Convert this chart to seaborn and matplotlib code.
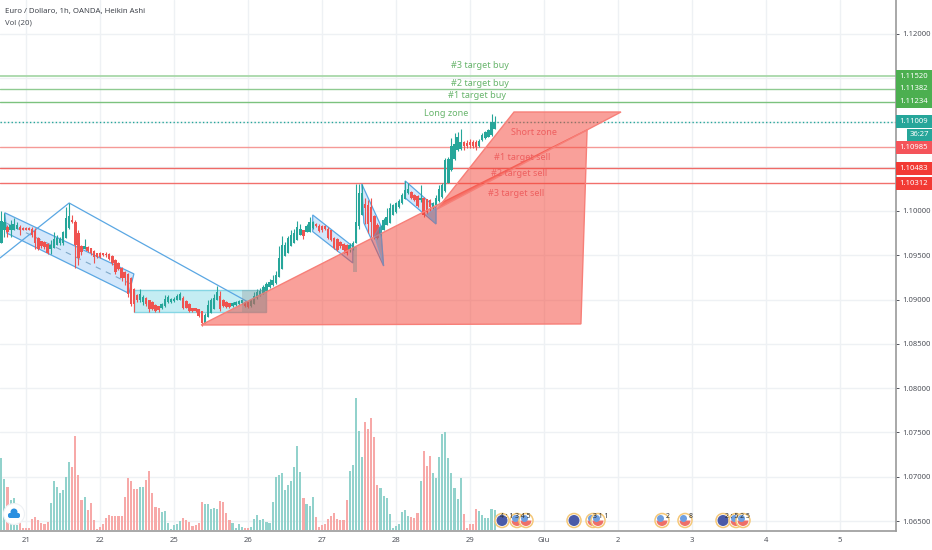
import pandas as pd
import seaborn as sns
from matplotlib import pyplot as plt
from matplotlib.patches import Circle, FancyBboxPatch, Polygon, Rectangle, Wedge
from matplotlib.transforms import Affine2D

# hourly bars, first bar sits 8 hours before the "21" tick
first_bar = -8
opens = [1.0964,1.0979,1.0982,1.0979,1.0979,1.0980,1.0982,1.0981,1.0981,1.0981,1.0980,1.0977,1.0970,1.0966,1.0965,1.0963,
         1.0957,1.0958,1.0962,1.0964,1.0964,1.0969,1.0981,1.0990,1.0988,1.0975,1.0961,1.0957,1.0959,1.0958,1.0955,1.0952,
         1.0952,1.0952,1.0951,1.0951,1.0949,1.0945,1.0941,1.0936,1.0931,1.0929,1.0924,1.0912,1.0905,1.0899,1.0897,1.0902,
         1.0900,1.0897,1.0894,1.0893,1.0890,1.0893,1.0897,1.0897,1.0898,1.0900,1.0900,1.0902,1.0898,1.0895,1.0891,1.0890,
         1.0889,1.0887,1.0874,1.0880,1.0885,1.0889,1.0899,1.0904,1.0899,1.0897,1.0896,1.0893,1.0894,1.0895,1.0896,1.0897,
         1.0897,1.0893,1.0895,1.0902,1.0905,1.0907,1.0910,1.0914,1.0916,1.0919,1.0926,1.0935,1.0949,1.0953,1.0960,1.0964,
         1.0967,1.0973,1.0978,1.0976,1.0976,1.0981,1.0985,1.0983,1.0983,1.0983,1.0980,1.0978,1.0969,1.0968,1.0965,1.0963,
         1.0962,1.0956,1.0957,1.0964,1.0983,1.0995,1.1008,1.1007,1.1004,1.0994,1.0984,1.0973,1.0979,1.0984,1.0986,1.0996,
         1.0999,1.1004,1.1009,1.1014,1.1020,1.1021,1.1018,1.1017,1.1012,1.1015,1.1013,1.1012,1.1003,1.1007,1.1011,1.1016,
         1.1022,1.1032,1.1046,1.1059,1.1069,1.1070,1.1078,1.1077,1.1078,1.1078,1.1078,1.1073,1.1080,1.1082,1.1084,1.1086,1.1093]
closes = [1.0989,1.0987,1.0976,1.0984,1.0985,1.0984,1.0978,1.0979,1.0979,1.0979,1.0973,1.0964,1.0957,1.0960,1.0959,1.0952,
          1.0962,1.0968,1.0970,1.0968,1.0976,1.0992,1.0994,1.0987,1.0962,1.0947,1.0954,1.0960,1.0955,1.0952,1.0948,1.0948,
          1.0948,1.0950,1.0950,1.0946,1.0941,1.0931,1.0935,1.0924,1.0924,1.0906,1.0895,1.0895,1.0899,1.0906,1.0903,1.0895,
          1.0889,1.0889,1.0887,1.0888,1.0895,1.0901,1.0903,1.0901,1.0901,1.0904,1.0906,1.0891,1.0891,1.0887,1.0887,1.0887,
          1.0881,1.0874,1.0883,1.0894,1.0899,1.0902,1.0908,1.0889,1.0893,1.0892,1.0892,1.0896,1.0897,1.0898,1.0899,1.0893,
          1.0892,1.0899,1.0904,1.0908,1.0910,1.0914,1.0918,1.0920,1.0922,1.0928,1.0947,1.0962,1.0962,1.0969,1.0973,1.0975,
          1.0982,1.0980,1.0972,1.0983,1.0987,1.0988,1.0983,1.0977,1.0978,1.0980,1.0969,1.0967,1.0958,1.0956,1.0960,1.0956,
          1.0952,1.0962,1.0964,1.0987,1.1020,1.1020,1.1003,1.0985,1.0988,1.0970,1.0970,1.0982,1.0990,1.0993,1.1003,1.1007,
          1.1009,1.1011,1.1018,1.1024,1.1025,1.1015,1.1012,1.1006,1.1015,1.0995,1.0999,1.1005,1.1009,1.1015,1.1025,1.1029,
          1.1058,1.1059,1.1073,1.1076,1.1084,1.1078,1.1073,1.1073,1.1074,1.1073,1.1072,1.1079,1.1086,1.1089,1.1091,1.1100,1.1100]
highs = [1.1000,1.0998,1.0984,1.0990,1.0992,1.0987,1.0984,1.0982,1.0982,1.0982,1.0982,1.0981,1.0971,1.0966,1.0966,1.0964,
         1.0967,1.0976,1.0973,1.0971,1.0977,1.1004,1.1009,1.0996,1.0990,1.0979,1.0962,1.0968,1.0960,1.0958,1.0956,1.0953,
         1.0954,1.0953,1.0954,1.0953,1.0950,1.0946,1.0942,1.0937,1.0932,1.0930,1.0925,1.0913,1.0906,1.0912,1.0905,1.0903,
         1.0900,1.0898,1.0895,1.0893,1.0896,1.0905,1.0905,1.0902,1.0903,1.0906,1.0908,1.0904,1.0900,1.0896,1.0891,1.0891,
         1.0889,1.0887,1.0885,1.0900,1.0902,1.0906,1.0915,1.0910,1.0901,1.0898,1.0896,1.0897,1.0898,1.0899,1.0900,1.0898,
         1.0897,1.0901,1.0908,1.0912,1.0913,1.0917,1.0920,1.0923,1.0928,1.0932,1.0961,1.0972,1.0965,1.0972,1.0979,1.0980,
         1.0989,1.0985,1.0979,1.0985,1.0993,1.0989,1.0986,1.0985,1.0984,1.0984,1.0982,1.0979,1.0971,1.0970,1.0966,1.0964,
         1.0963,1.0964,1.0966,1.1030,1.1030,1.1030,1.1015,1.1012,1.1015,1.0996,1.0986,1.0984,1.0992,1.1003,1.1009,1.1008,
         1.1010,1.1014,1.1020,1.1034,1.1031,1.1022,1.1019,1.1018,1.1029,1.1016,1.1014,1.1013,1.1010,1.1018,1.1029,1.1032,
         1.1060,1.1061,1.1082,1.1088,1.1089,1.1092,1.1079,1.1080,1.1081,1.1080,1.1080,1.1081,1.1088,1.1090,1.1093,1.1110,1.1107]
lows = [1.0964,1.0971,1.0971,1.0971,1.0979,1.0980,1.0973,1.0978,1.0978,1.0978,1.0971,1.0957,1.0956,1.0958,1.0957,1.0951,
        1.0951,1.0958,1.0962,1.0962,1.0962,1.0969,1.0980,1.0986,1.0936,1.0939,1.0950,1.0957,1.0954,1.0950,1.0941,1.0947,
        1.0947,1.0949,1.0948,1.0945,1.0939,1.0929,1.0933,1.0921,1.0916,1.0903,1.0893,1.0886,1.0897,1.0897,1.0894,1.0893,
        1.0886,1.0888,1.0886,1.0886,1.0889,1.0892,1.0896,1.0896,1.0897,1.0899,1.0899,1.0889,1.0890,1.0886,1.0886,1.0886,
        1.0880,1.0870,1.0873,1.0880,1.0885,1.0889,1.0899,1.0887,1.0892,1.0891,1.0891,1.0892,1.0893,1.0894,1.0895,1.0892,
        1.0891,1.0892,1.0895,1.0901,1.0904,1.0906,1.0909,1.0913,1.0915,1.0918,1.0925,1.0935,1.0949,1.0953,1.0960,1.0964,
        1.0967,1.0973,1.0968,1.0976,1.0976,1.0980,1.0982,1.0976,1.0976,1.0979,1.0968,1.0966,1.0957,1.0955,1.0958,1.0953,
        1.0950,1.0954,1.0956,1.0964,1.0980,1.0995,1.0985,1.0975,1.0971,1.0968,1.0968,1.0972,1.0979,1.0984,1.0986,1.0995,
        1.0998,1.1003,1.1008,1.1013,1.1019,1.1014,1.1011,1.1005,1.1010,1.0993,1.0997,1.1000,1.1002,1.1006,1.1010,1.1015,
        1.1021,1.1031,1.1045,1.1058,1.1068,1.1069,1.1069,1.1071,1.1071,1.1071,1.1069,1.1072,1.1079,1.1081,1.1083,1.1085,1.1092]
volumes = [215,152,130,90,95,15,20,5,7,7,33,40,30,20,17,25,80,147,128,110,120,160,203,190,282,166,90,98,60,80,30,3,10,18,37,45,
           42,42,42,42,98,155,147,122,124,130,130,150,177,110,70,67,55,57,22,3,15,18,27,37,30,25,13,15,20,85,78,78,62,65,62,87,
           85,50,30,20,7,18,10,5,5,8,33,45,30,32,25,22,83,160,165,170,120,135,148,190,252,175,95,78,72,98,40,8,14,18,33,42,
           52,33,30,30,90,176,195,396,297,220,325,303,335,278,135,125,102,95,48,5,12,18,55,60,42,38,35,50,148,238,192,222,172,155,
           220,288,293,217,170,125,92,155,47,5,18,18,62,57,45,37,36,62,60]

day_labels = ['21', '22', '25', '26', '27', '28', '29', 'Giu', '2', '3', '4', '5']
price_ticks = [1.065, 1.07, 1.075, 1.08, 1.085, 1.09, 1.095, 1.10, 1.105, 1.11, 1.115, 1.12]
covered_ticks = [1.105, 1.11, 1.115]  # sit under the price tags

level_prices = [1.1152, 1.11382, 1.11234, 1.11009, 1.1072, 1.10483, 1.10312]
level_tags = ['1.11520', '1.11382', '1.11234', '1.11009', '1.10985', '1.10483', '1.10312']
level_colors = ['#a8d8a9', '#8fcb91', '#7cc27e', '#26a69a', '#f59a97', '#ef6a66', '#f2706c']
tag_colors = ['#4caf50', '#4caf50', '#4caf50', '#26a69a', '#f4545a', '#f23a34', '#f23a34']

buy_labels = ['#3 target buy', '#2 target buy', '#1 target buy', 'Long zone']
sell_labels = ['Short zone', '#1 target sell', '#2 target sell', '#3 target sell']

GREEN = '#26a69a'
RED = '#ef5350'
BLUE = '#5aa7e3'

sns.set_theme(style='white')
plt.rcParams['font.family'] = ['Noto Sans', 'DejaVu Sans']

bars = list(range(first_bar, first_bar + len(closes)))
candles = pd.DataFrame({'bar': bars, 'open': opens, 'close': closes, 'high': highs, 'low': lows, 'vol': volumes})
candles['side'] = ['up' if c >= o else 'down' for o, c in zip(opens, closes)]

fig = plt.figure(figsize=(9.32, 5.5), dpi=100)
ax = fig.add_axes([0, 19 / 550, 896 / 932, 531 / 550])
vol_ax = ax.twinx()

# helper for furniture placed in picture pixels (y down, like the screenshot)
px = Affine2D().scale(1 / 932, -1 / 550).translate(0, 1) + fig.transFigure

# grid + levels
ax.set_axisbelow(True)
ax.grid(True, color='#eef1f4', lw=1)
for price, col in zip(level_prices, level_colors):
    ax.axhline(price, color=col, lw=1.3 if col == level_colors[0] else 1.0, ls=':' if col == GREEN else '-', zorder=1.5)

# drawings under the candles
channel_fc = '#d3e7fb'
ax.add_patch(Polygon([(-6.9, 1.0998), (35, 1.0929), (33.4, 1.0907), (-6.2, 1.0975)], fc=channel_fc, ec=BLUE, lw=0.9, zorder=1.6))
ax.plot([-6.5, 34], [1.09865, 1.09176], color='#7fa9c9', lw=0.8, ls=(0, (5, 5)), zorder=1.7)
ax.add_patch(Polygon([(93, 1.09955), (106, 1.0960), (106, 1.09413), (93, 1.09767)], fc=channel_fc, ec=BLUE, lw=0.9, zorder=1.6))
ax.add_patch(Polygon([(108.9, 1.10305), (115, 1.09842), (116, 1.09379), (109.6, 1.09865)], fc=channel_fc, ec=BLUE, lw=0.9, zorder=1.6))
ax.add_patch(Polygon([(123, 1.10339), (133, 1.10034), (133, 1.09853), (123, 1.10147)], fc=channel_fc, ec=BLUE, lw=0.9, zorder=1.6))
ax.add_patch(Rectangle((35, 1.0886), 43, 0.0025, fc='#c4edf3', ec='#86d6e4', lw=1, zorder=1.6))
ax.plot([-8.4, 14, 72], [1.0947, 1.1009, 1.08973], color=BLUE, lw=0.9, zorder=1.7)

# candles
wick_cols = [GREEN if s == 'up' else RED for s in candles['side']]
ax.vlines(candles['bar'], candles['low'], candles['high'], colors=wick_cols, lw=0.8, zorder=2)
ax.bar(candles['bar'], candles['close'] - candles['open'], bottom=candles['open'], width=0.78, color=wick_cols, lw=0, zorder=2.1)

# red zones
zone_fc = (0.957, 0.263, 0.212, 0.5)
ax.add_patch(Polygon([(56.8, 1.08713), (133.3, 1.10065), (182, 1.10914), (180, 1.08725)], fc=zone_fc, ec='#f77f78', lw=1, zorder=3))
ax.add_patch(Polygon([(133.3, 1.1002), (158.3, 1.11117), (193, 1.11117)], fc=zone_fc, ec='#f77f78', lw=1, zorder=3))
ax.add_patch(Rectangle((70, 1.0886), 8, 0.0025, fc='#888888', ec='none', alpha=0.3, zorder=3.1))
ax.add_patch(Rectangle((106, 1.0931), 1.3, 0.0028, fc='#888888', ec='none', alpha=0.45, zorder=3.1))
ax.add_patch(Polygon([(115, 1.09842), (116, 1.09379), (113, 1.0972)], fc='#6f86a8', ec=BLUE, lw=0.8, alpha=0.45, zorder=3.1))
ax.add_patch(Polygon([(130, 1.0996), (133, 1.10034), (133, 1.09853)], fc='#6f86a8', ec=BLUE, lw=0.8, alpha=0.45, zorder=3.1))

# volume pane, heights run from the baseline just above the date axis
sns.barplot(data=candles, x='bar', y='vol', hue='side', hue_order=['up', 'down'],
            palette={'up': '#92d2cc', 'down': '#f7a9a8'}, native_scale=True, dodge=False,
            width=0.68, saturation=1, linewidth=0, legend=False, ax=vol_ax)
vol_ax.set_ylim(-3, 1590)
vol_ax.set_xlabel('')
vol_ax.set_ylabel('')
vol_ax.set_yticks([])
for s in vol_ax.spines.values():
    s.set_visible(False)

ax.set_xlim(-8.43, 282.2)
ax.set_ylim(1.06388, 1.12381)
vol_ax.set_xlim(-8.43, 282.2)
ax.set_xticks([24 * k for k in range(len(day_labels))])
ax.set_xticklabels(day_labels)
ax.set_yticks(price_ticks)
ax.set_yticklabels(['' if t in covered_ticks else f'{t:.5f}' for t in price_ticks])
ax.yaxis.tick_right()
ax.tick_params(axis='both', labelsize=5.5, colors='#50535b', length=2.5, width=0.7, pad=2)
for side in ['top', 'left']:
    ax.spines[side].set_visible(False)
for side in ['right', 'bottom']:
    ax.spines[side].set_color('#9a9a9a')
    ax.spines[side].set_linewidth(1.2)

# price tags, a fixed band right of the price axis
tag_tf = ax.get_yaxis_transform()
for price, tag, col in zip(level_prices, level_tags, tag_colors):
    ax.add_patch(Rectangle((1.0005, price - 0.00073), 0.04, 0.00146, transform=tag_tf, fc=col, ec='none', clip_on=False, zorder=9))
    ax.text(1.0195, price, tag, transform=tag_tf, color='white', fontsize=5.5, va='center', ha='center', clip_on=False, zorder=10)
fig.add_artist(Rectangle((907, 129), 25, 12, fc=GREEN, ec='none', transform=px))
fig.text(919.5 / 932, 1 - 135 / 550, '36:27', color='white', fontsize=5.5, ha='center', va='center')

# drawing labels
for label, x, y in zip(buy_labels, [480, 480, 477, 446.5], [65, 83, 96, 114]):
    fig.text(x / 932, 1 - y / 550, label, color='#68b56c', fontsize=6.5, ha='center', va='center')
for label, x, y in zip(sell_labels, [534, 522.5, 519.5, 516], [132.5, 157, 174, 194]):
    fig.text(x / 932, 1 - y / 550, label, color='#ee5f5f', fontsize=6.5, ha='center', va='center')

fig.text(5 / 932, 1 - 11 / 550, 'Euro / Dollaro, 1h, OANDA, Heikin Ashi', color='#3f434b', fontsize=5.6, va='center')
fig.text(5 / 932, 1 - 23 / 550, 'Vol (20)', color='#4d5159', fontsize=5.6, va='center')

# tradingview badge
fig.add_artist(Circle((14, 514), 10.5, fc='white', ec='#eef1f4', lw=0.8, transform=px))
fig.add_artist(FancyBboxPatch((8, 513), 12, 5, boxstyle='round,pad=0,rounding_size=2', fc='#2a8fe0', ec='none', transform=px))
fig.add_artist(Circle((14, 512), 3.5, fc='#2a8fe0', ec='none', transform=px))


def event_flag(x, kind):
    fig.add_artist(Circle((x, 520.5), 7, fc='white', ec='#f5c878', lw=1.1, transform=px))
    if kind == 'eu':
        fig.add_artist(Circle((x, 520.5), 5.5, fc='#4a5aa8', ec='none', transform=px))
    else:
        fig.add_artist(Wedge((x, 520.5), 5.5, 0, 180, fc='#ee7068', ec='none', transform=px))
        fig.add_artist(Circle((x - 1.5, 518.5), 3.5, fc='#6f9fe0', ec='none', transform=px))


for x, kind in zip([502, 517, 526, 574, 593, 598, 662, 685, 723, 736, 743],
                   ['eu', 'us', 'us', 'eu', 'us', 'us', 'us', 'us', 'eu', 'us', 'us']):
    event_flag(x, kind)
for x, note in zip([515, 601, 668, 691, 737], ['4 : 1 3 4 5', '3 1 1', '2', '8', '2 : 5 2 5']):
    fig.text(x / 932, 1 - 516 / 550, note, color='#333333', fontsize=5, ha='center', va='center')

fig.savefig('out.png', dpi=100)
